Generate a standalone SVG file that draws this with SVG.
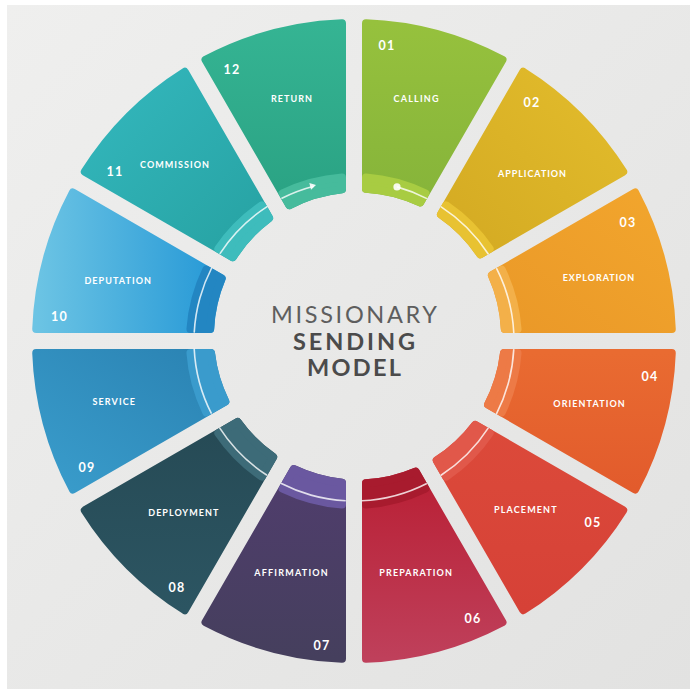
<svg xmlns="http://www.w3.org/2000/svg" width="690" height="689" viewBox="0 0 690 689">
<defs>
<style>
.seg{stroke-width:8;stroke-linejoin:round}
.band{stroke-width:8;stroke-linejoin:round}
.lbl{font-family:Lato,"Liberation Sans",sans-serif;font-weight:700;font-size:9px;fill:#fff;text-anchor:middle}
.num{font-family:Lato,"Liberation Sans",sans-serif;font-weight:700;font-size:12.5px;fill:#fff;text-anchor:middle;letter-spacing:1.2px}
.title{font-family:Lato,"Liberation Sans",sans-serif;font-size:23.5px;text-anchor:middle}
</style>
<linearGradient id="bg" x1="0" y1="0" x2="1" y2="1"><stop offset="0" stop-color="#efefee"/><stop offset="1" stop-color="#e2e2e1"/></linearGradient>
<linearGradient id="g1" x1="0" y1="0" x2="0" y2="1"><stop offset="0" stop-color="#96c13d"/><stop offset="1" stop-color="#86b43a"/></linearGradient>
<linearGradient id="g2" x1="1" y1="0" x2="0" y2="1"><stop offset="0" stop-color="#e3bd2c"/><stop offset="1" stop-color="#d3a922"/></linearGradient>
<linearGradient id="g3" x1="1" y1="0" x2="0" y2="1"><stop offset="0" stop-color="#f2a62d"/><stop offset="1" stop-color="#ea9828"/></linearGradient>
<linearGradient id="g4" x1="0" y1="0" x2="0" y2="1"><stop offset="0" stop-color="#e96b31"/><stop offset="1" stop-color="#e25b2c"/></linearGradient>
<linearGradient id="g5" x1="0" y1="0" x2="0" y2="1"><stop offset="0" stop-color="#dc4a3a"/><stop offset="1" stop-color="#d64137"/></linearGradient>
<linearGradient id="g6" x1="0" y1="0" x2="0" y2="1"><stop offset="0" stop-color="#b91f34"/><stop offset="1" stop-color="#bf405b"/></linearGradient>
<linearGradient id="g7" x1="0" y1="0" x2="0" y2="1"><stop offset="0" stop-color="#503d6d"/><stop offset="1" stop-color="#453f5d"/></linearGradient>
<linearGradient id="g8" x1="0" y1="0" x2="0" y2="1"><stop offset="0" stop-color="#264a55"/><stop offset="1" stop-color="#2c5562"/></linearGradient>
<linearGradient id="g9" x1="1" y1="0" x2="0" y2="1"><stop offset="0" stop-color="#2a82b2"/><stop offset="1" stop-color="#3a9dcc"/></linearGradient>
<linearGradient id="g10" x1="0" y1="0" x2="1" y2="0"><stop offset="0" stop-color="#6cc4e4"/><stop offset="1" stop-color="#2598d6"/></linearGradient>
<linearGradient id="g11" x1="0" y1="0" x2="1" y2="1"><stop offset="0" stop-color="#34b8be"/><stop offset="1" stop-color="#26a1a1"/></linearGradient>
<linearGradient id="g12" x1="0" y1="0" x2="0" y2="1"><stop offset="0" stop-color="#35b493"/><stop offset="1" stop-color="#2aa283"/></linearGradient>
</defs>
<rect width="690" height="689" fill="#ffffff"/>
<rect x="7" y="5" width="683" height="684" fill="url(#bg)"/>

<g id="node-01">
<path class="seg" fill="url(#g1)" stroke="url(#g1)" d="M366,23.23 A318,318 0 0 1 502.49,59.81 L420.14,202.46 A147.5,147.5 0 0 0 366,188.75 Z"/>
<path class="band" fill="#a8cc42" stroke="#a8cc42" d="M366,177.44 A164,164 0 0 1 425.39,193.35 L420.14,202.46 A147.5,147.5 0 0 0 366,188.75 Z"/>
<text class="num" x="387" y="49.5">01</text>
<text class="lbl" x="416" y="101.5" textLength="45" lengthAdjust="spacing">CALLING</text>
</g>
<g id="node-02">
<path class="seg" fill="url(#g2)" stroke="url(#g2)" d="M523.28,71.81 A318,318 0 0 1 623.19,171.72 L480.26,254.24 A147.5,147.5 0 0 0 440.96,214.39 Z"/>
<path class="band" fill="#e8c232" stroke="#e8c232" d="M446.17,205.35 A164,164 0 0 1 489.65,248.83 L480.26,254.24 A147.5,147.5 0 0 0 440.96,214.39 Z"/>
<text class="num" x="532" y="106.5">02</text>
<text class="lbl" x="532" y="176.5" textLength="68" lengthAdjust="spacing">APPLICATION</text>
</g>
<g id="node-03">
<path class="seg" fill="url(#g3)" stroke="url(#g3)" d="M635.19,192.51 A318,318 0 0 1 671.77,329 L504.83,329 A147.5,147.5 0 0 0 491.90,275.23 Z"/>
<path class="band" fill="#f3b049" stroke="#f3b049" d="M501.65,269.61 A164,164 0 0 1 517.56,329 L504.83,329 A147.5,147.5 0 0 0 491.90,275.23 Z"/>
<text class="num" x="628" y="226.5">03</text>
<text class="lbl" x="598.5" y="280.5" textLength="71.5" lengthAdjust="spacing">EXPLORATION</text>
</g>
<g id="node-04">
<path class="seg" fill="url(#g4)" stroke="url(#g4)" d="M671.77,353 A318,318 0 0 1 635.19,489.49 L488.09,404.57 A147.5,147.5 0 0 0 504.02,353 Z"/>
<path class="band" fill="#ed7a46" stroke="#ed7a46" d="M517.56,353 A164,164 0 0 1 501.65,412.39 L488.09,404.57 A147.5,147.5 0 0 0 504.02,353 Z"/>
<text class="num" x="650" y="381">04</text>
<text class="lbl" x="589" y="406.5" textLength="71.5" lengthAdjust="spacing">ORIENTATION</text>
</g>
<g id="node-05">
<path class="seg" fill="url(#g5)" stroke="url(#g5)" d="M623.19,510.28 A318,318 0 0 1 523.28,610.19 L436.78,460.38 A147.5,147.5 0 0 0 475.23,424.85 Z"/>
<path class="band" fill="#e1584a" stroke="#e1584a" d="M489.65,433.17 A164,164 0 0 1 446.17,476.65 L436.78,460.38 A147.5,147.5 0 0 0 475.23,424.85 Z"/>
<text class="num" x="593" y="527">05</text>
<text class="lbl" x="525.3" y="512.5" textLength="62.5" lengthAdjust="spacing">PLACEMENT</text>
</g>
<g id="node-06">
<path class="seg" fill="url(#g6)" stroke="url(#g6)" d="M502.49,622.19 A318,318 0 0 1 366,658.77 L366,483.25 A147.5,147.5 0 0 0 415.55,471.59 Z"/>
<path class="band" fill="#a81b2e" stroke="#a81b2e" d="M425.39,488.65 A164,164 0 0 1 366,504.56 L366,483.25 A147.5,147.5 0 0 0 415.55,471.59 Z"/>
<text class="num" x="473" y="622.5">06</text>
<text class="lbl" x="415.6" y="575.5" textLength="72.5" lengthAdjust="spacing">PREPARATION</text>
</g>
<g id="node-07">
<path class="seg" fill="url(#g7)" stroke="url(#g7)" d="M342,658.77 A318,318 0 0 1 205.51,622.19 L293.90,469.08 A147.5,147.5 0 0 0 342,482.68 Z"/>
<path class="band" fill="#6a58a0" stroke="#6a58a0" d="M342,504.56 A164,164 0 0 1 282.61,488.65 L293.90,469.08 A147.5,147.5 0 0 0 342,482.68 Z"/>
<text class="num" x="322" y="649.5">07</text>
<text class="lbl" x="291" y="575.5" textLength="73.5" lengthAdjust="spacing">AFFIRMATION</text>
</g>
<g id="node-08">
<path class="seg" fill="url(#g8)" stroke="url(#g8)" d="M184.72,610.19 A318,318 0 0 1 84.81,510.28 L237.68,422.02 A147.5,147.5 0 0 0 273.16,457.01 Z"/>
<path class="band" fill="#3d6b78" stroke="#3d6b78" d="M261.83,476.65 A164,164 0 0 1 218.35,433.17 L237.68,422.02 A147.5,147.5 0 0 0 273.16,457.01 Z"/>
<text class="num" x="177" y="592">08</text>
<text class="lbl" x="183.3" y="515.5" textLength="70" lengthAdjust="spacing">DEPLOYMENT</text>
</g>
<g id="node-09">
<path class="seg" fill="url(#g9)" stroke="url(#g9)" d="M72.81,489.49 A318,318 0 0 1 36.23,353 L210.98,353 A147.5,147.5 0 0 0 225.31,401.45 Z"/>
<path class="band" fill="#3a9bcc" stroke="#3a9bcc" d="M206.35,412.39 A164,164 0 0 1 190.44,353 L210.98,353 A147.5,147.5 0 0 0 225.31,401.45 Z"/>
<text class="num" x="87" y="472">09</text>
<text class="lbl" x="113.7" y="404.5" textLength="42.5" lengthAdjust="spacing">SERVICE</text>
</g>
<g id="node-10">
<path class="seg" fill="url(#g10)" stroke="url(#g10)" d="M36.23,329 A318,318 0 0 1 72.81,192.51 L221.69,278.46 A147.5,147.5 0 0 0 210.17,329 Z"/>
<path class="band" fill="#2386c2" stroke="#2386c2" d="M190.44,329 A164,164 0 0 1 206.35,269.61 L221.69,278.46 A147.5,147.5 0 0 0 210.17,329 Z"/>
<text class="num" x="59.5" y="320.5">10</text>
<text class="lbl" x="117.7" y="283.5" textLength="66.5" lengthAdjust="spacing">DEPUTATION</text>
</g>
<g id="node-11">
<path class="seg" fill="url(#g11)" stroke="url(#g11)" d="M84.81,171.72 A318,318 0 0 1 184.72,71.81 L269.09,217.94 A147.5,147.5 0 0 0 232.83,257.18 Z"/>
<path class="band" fill="#3ebcbc" stroke="#3ebcbc" d="M218.35,248.83 A164,164 0 0 1 261.83,205.35 L269.09,217.94 A147.5,147.5 0 0 0 232.83,257.18 Z"/>
<text class="num" x="115" y="176">11</text>
<text class="lbl" x="174.5" y="167.5" textLength="69" lengthAdjust="spacing">COMMISSION</text>
</g>
<g id="node-12">
<path class="seg" fill="url(#g12)" stroke="url(#g12)" d="M205.51,59.81 A318,318 0 0 1 342,23.23 L342,189.32 A147.5,147.5 0 0 0 289.42,205.15 Z"/>
<path class="band" fill="#46bb9c" stroke="#46bb9c" d="M282.61,193.35 A164,164 0 0 1 342,177.44 L342,189.32 A147.5,147.5 0 0 0 289.42,205.15 Z"/>
<text class="num" x="232" y="73.5">12</text>
<text class="lbl" x="291.5" y="101.5" textLength="41" lengthAdjust="spacing">RETURN</text>
</g>

<g id="connectors">
<circle cx="354" cy="341" r="160" fill="none" stroke="#ffffff" stroke-opacity="0.8" stroke-width="1.6" transform="rotate(-74.4 354 341)" stroke-dasharray="32.21 16 67.78 16 67.78 16 67.78 16 67.78 16 67.78 16 67.78 16 67.78 16 67.78 16 67.78 16 67.78 16 34.6 84.7"/>
<polygon points="316,185 309.33,183.05 311.03,189.85" fill="#ffffff" fill-opacity="0.9"/>
<circle cx="397" cy="186.9" r="3.6" fill="#ffffff" fill-opacity="0.9"/>
</g>

<g id="title">
<text class="title" x="354" y="323" fill="#5e5e5e" textLength="166" lengthAdjust="spacing">MISSIONARY</text>
<text class="title" x="354" y="350" fill="#4b4b4b" font-weight="700" textLength="122" lengthAdjust="spacing">SENDING</text>
<text class="title" x="354" y="376" fill="#4b4b4b" font-weight="700" textLength="94" lengthAdjust="spacing">MODEL</text>
</g>
</svg>
